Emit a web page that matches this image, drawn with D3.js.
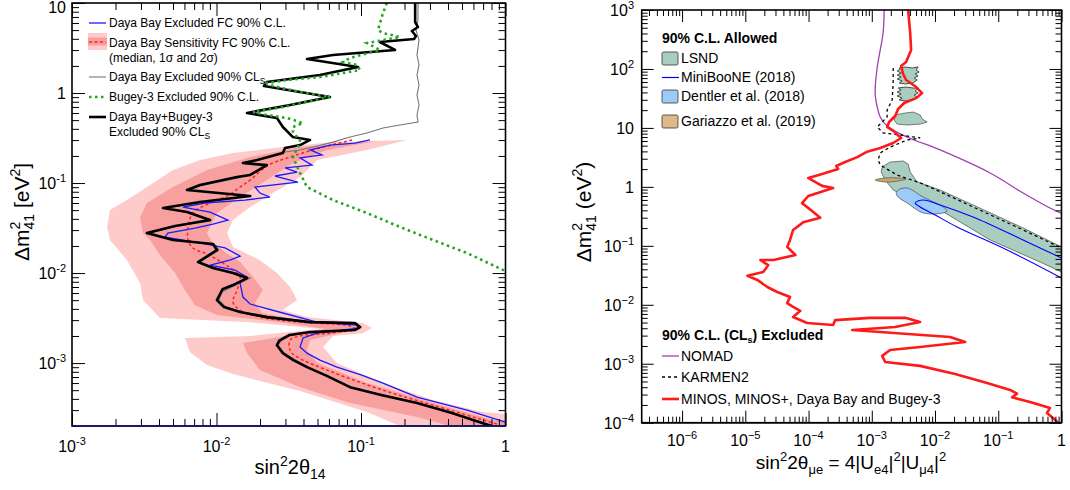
<!DOCTYPE html>
<html>
<head>
<meta charset="utf-8">
<script src="https://cdn.jsdelivr.net/npm/d3@7"></script>
<style>
  body { margin: 0; background: #fff; }
  text { font-family: "Liberation Sans", Arial, Helvetica, sans-serif; fill: #000; }
</style>
</head>
<body>
<svg id="chart" width="1070" height="490"></svg>
<script>
// ---------- left panel data: [sin^2 2theta14, dm41^2] ----------
var combined = [[0.237,10],[0.237,6.15],[0.248,5.41],[0.225,4.89],[0.240,4.30],[0.233,3.98],[0.135,3.69],[0.172,3.01],[0.064,2.64],[0.0423,2.39],[0.0953,1.95],[0.052,1.585],[0.0223,1.325],[0.0213,1.196],[0.061,0.903],[0.0323,0.736],[0.01626,0.600],[0.0262,0.527],[0.0288,0.419],[0.0338,0.324],[0.0444,0.301],[0.0379,0.264],[0.0298,0.245],[0.0288,0.215],[0.0191,0.180],[0.01524,0.167],[0.0223,0.158],[0.0171,0.123],[0.01387,0.1166],[0.00769,0.095],[0.00625,0.0836],[0.0171,0.0717],[0.00769,0.0615],[0.00427,0.0528],[0.00625,0.0476],[0.00902,0.0388],[0.00517,0.0333],[0.0033,0.0278],[0.0050,0.0233],[0.00946,0.0210],[0.01007,0.0180],[0.00745,0.01325],[0.00946,0.01137],[0.013,0.01],[0.01626,0.0088],[0.013,0.00736],[0.0110,0.0066],[0.01007,0.00501],[0.01127,0.00419],[0.01456,0.00369],[0.0223,0.00324],[0.0444,0.00285],[0.0907,0.00278],[0.0984,0.00251],[0.0907,0.00233],[0.0444,0.00221],[0.0320,0.00205],[0.0272,0.00178],[0.0262,0.00158],[0.0288,0.00129],[0.0340,0.00108],[0.0423,0.000903],[0.058,0.00072],[0.084,0.00054],[0.140,0.00044],[0.244,0.00036],[0.420,0.00028],[0.698,0.000215],[0.807,0.0002]];

var dbFC = [[0.1153,0.301],[0.0907,0.278],[0.061,0.264],[0.0444,0.233],[0.0537,0.205],[0.0379,0.190],[0.0458,0.158],[0.0298,0.147],[0.0361,0.1325],[0.0254,0.1197],[0.0366,0.1026],[0.01845,0.0903],[0.02,0.0774],[0.0234,0.0699],[0.01574,0.0647],[0.00832,0.06],[0.00586,0.0541],[0.00902,0.0476],[0.0120,0.0388],[0.00946,0.035],[0.0071,0.0316],[0.00461,0.0278],[0.0044,0.0251],[0.00769,0.0216],[0.01146,0.019],[0.01456,0.01545],[0.01238,0.0139],[0.00902,0.01227],[0.01343,0.0108],[0.01626,0.00903],[0.01456,0.00774],[0.01524,0.00541],[0.0171,0.00453],[0.0288,0.0036],[0.0497,0.00285],[0.0938,0.00264],[0.0953,0.00245],[0.0497,0.00215],[0.0397,0.0019],[0.0379,0.00151],[0.0423,0.00129],[0.052,0.00108],[0.0682,0.000903],[0.100,0.00074],[0.142,0.0006],[0.244,0.000419],[0.542,0.0003],[1.0,0.000221]];

var dbSensMedian = [[0.0867,0.301],[0.052,0.245],[0.0323,0.1945],[0.0223,0.1545],[0.0171,0.108],[0.01456,0.0903],[0.01183,0.0717],[0.00902,0.06],[0.00687,0.0464],[0.00636,0.0325],[0.00636,0.0233],[0.00687,0.019],[0.00859,0.01626],[0.0111,0.0129],[0.01456,0.00903],[0.01387,0.00647],[0.013,0.00476],[0.01456,0.00388],[0.02,0.00324],[0.0379,0.00285],[0.084,0.00258],[0.0907,0.00239],[0.061,0.00215],[0.0379,0.002],[0.0323,0.0018],[0.0323,0.00139],[0.0361,0.00117],[0.0582,0.000836],[0.142,0.0005],[0.413,0.0003],[0.916,0.000205]];

var dbSens2s = [[0.208,0.301],[0.110,0.233],[0.0497,0.180],[0.0379,0.1166],[0.0246,0.0774],[0.0171,0.0541],[0.013,0.0388],[0.01183,0.0278],[0.013,0.0195],[0.02,0.0139],[0.0262,0.01],[0.0323,0.00699],[0.0361,0.00501],[0.0288,0.00388],[0.0423,0.00324],[0.1033,0.00278],[0.119,0.00245],[0.1033,0.00215],[0.064,0.002],[0.0546,0.00151],[0.0682,0.001],[0.142,0.0006],[0.315,0.000388],[0.698,0.000286],[1.0,0.000271],[1.0,0.0002],[0.186,0.0002],[0.110,0.000286],[0.0379,0.000489],[0.013,0.000755],[0.00859,0.00095],[0.00656,0.00132],[0.00605,0.0019],[0.0171,0.002],[0.052,0.00239],[0.0171,0.00285],[0.00406,0.00316],[0.0031,0.00501],[0.00296,0.00774],[0.0024,0.0139],[0.00183,0.0233],[0.00175,0.0325],[0.00183,0.0501],[0.0024,0.0647],[0.0033,0.0903],[0.005,0.1394],[0.00769,0.180],[0.013,0.215],[0.0288,0.251],[0.064,0.285]];

var dbSens1s = [[0.129,0.293],[0.0582,0.233],[0.0338,0.167],[0.0223,0.108],[0.01456,0.0699],[0.01007,0.0464],[0.00859,0.0278],[0.00931,0.0221],[0.01146,0.0171],[0.01456,0.01325],[0.0179,0.00903],[0.0210,0.00647],[0.01845,0.00464],[0.0207,0.0036],[0.0379,0.003],[0.0881,0.00264],[0.0984,0.00245],[0.0774,0.00221],[0.0444,0.0018],[0.0423,0.00139],[0.0497,0.001],[0.110,0.0006],[0.315,0.00036],[0.818,0.000233],[1.0,0.000227],[1.0,0.0002],[0.413,0.0002],[0.244,0.000251],[0.084,0.00036],[0.0379,0.00054],[0.02,0.000836],[0.01626,0.00129],[0.01524,0.00167],[0.0275,0.00195],[0.0564,0.00239],[0.0275,0.00285],[0.01007,0.00341],[0.0071,0.0044],[0.00605,0.00647],[0.00517,0.01],[0.00406,0.01585],[0.00347,0.0233],[0.0031,0.0278],[0.00296,0.0419],[0.0033,0.06],[0.005,0.0903],[0.00859,0.1394],[0.0171,0.1945],[0.0379,0.251]];

var dbCLs = [[0.248,10],[0.248,6.47],[0.240,5.01],[0.252,3.88],[0.244,2.64],[0.252,2.05],[0.244,1.585],[0.252,1.23],[0.244,0.95],[0.252,0.736],[0.244,0.570],[0.248,0.476],[0.186,0.441],[0.142,0.408],[0.110,0.36],[0.084,0.324],[0.064,0.285],[0.0497,0.258],[0.0379,0.233],[0.0298,0.221],[0.0194,0.180],[0.01574,0.1626],[0.022,0.1545],[0.0171,0.123],[0.0141,0.1137],[0.00769,0.0926],[0.00636,0.0836],[0.01652,0.0717],[0.00794,0.0615],[0.0044,0.0528],[0.00636,0.0476],[0.00902,0.0378],[0.00533,0.0333],[0.00347,0.0278],[0.00517,0.0233],[0.00962,0.021],[0.0104,0.018],[0.00769,0.01325],[0.00978,0.01137],[0.01365,0.01],[0.0171,0.0088],[0.01365,0.00736],[0.0109,0.00615],[0.0104,0.00501],[0.01164,0.00419],[0.015,0.00369],[0.0227,0.0033],[0.0444,0.00289],[0.0922,0.00278],[0.1,0.00251],[0.0922,0.00233],[0.045,0.00221],[0.0293,0.00195],[0.0267,0.00158],[0.0293,0.00129],[0.0431,0.000903],[0.0854,0.00054],[0.248,0.00036],[0.72,0.000215]];

var bugey3 = [[0.151,10],[0.142,7.74],[0.131,5.01],[0.142,4.64],[0.186,4.19],[0.110,3.59],[0.135,3.01],[0.084,2.45],[0.075,2.21],[0.0938,2.05],[0.0984,1.80],[0.052,1.505],[0.0308,1.394],[0.0223,1.29],[0.0246,1.196],[0.0379,1.026],[0.061,0.903],[0.0288,0.699],[0.0179,0.615],[0.0223,0.570],[0.0308,0.527],[0.0397,0.464],[0.0338,0.419],[0.0338,0.36],[0.0379,0.301],[0.0366,0.251],[0.0338,0.1945],[0.0379,0.129],[0.0423,0.0903],[0.064,0.0647],[0.110,0.0464],[0.186,0.0325],[0.315,0.0233],[0.542,0.01668],[1.0,0.01052]];

var leftXTicks = [1e-3, 1e-2, 1e-1, 1];
var leftYTicks = [1e-3, 1e-2, 1e-1, 1, 10];

// ---------- right panel data: [sin^2 2theta_mue, dm41^2] ----------
var lsndBand = [[0.00163,2.35],[0.001954,2.64],[0.00313,2.75],[0.00376,2.44],[0.00405,1.79],[0.00521,1.21],[0.01205,0.885],[0.040,0.493],[0.247,0.201],[1.0,0.0955],[1.0,0.036],[0.457,0.0532],[0.0743,0.1256],[0.01205,0.406],[0.00649,0.533],[0.00362,0.673],[0.00218,0.885],[0.00163,1.31],[0.00141,1.79],[0.00146,2.17]];
var lsndIsland1 = [[0.00234,16.6],[0.00338,17.9],[0.00451,18.6],[0.00582,16.6],[0.00625,14.2],[0.0075,12.6],[0.00582,11.6],[0.00362,11.2],[0.00252,11.6],[0.00226,13.6]];
var lsndIsland2 = [[0.00271,104],[0.00338,108],[0.00435,104],[0.00541,108],[0.00502,96],[0.00561,88.7],[0.00485,82.2],[0.00541,76.0],[0.00468,70.3],[0.00521,65.0],[0.00451,57.8],[0.00338,55.6],[0.00271,57.8],[0.00302,62.5],[0.00252,67.6],[0.00291,73.1],[0.00252,79.0],[0.00291,85.3],[0.00252,92.3],[0.00281,100]];
var lsndIsland3 = [[0.00261,47.5],[0.00349,49.4],[0.00451,47.5],[0.00541,47.5],[0.00485,42.3],[0.00541,39.1],[0.00468,36.1],[0.00521,33.4],[0.00451,29.8],[0.00338,28.6],[0.00271,29.8],[0.00302,32.1],[0.00252,34.8],[0.00291,37.6],[0.00252,40.6],[0.00291,44.0]];
var miniboone = [[1.0,0.0622],[0.247,0.1256],[0.040,0.308],[0.01205,0.493],[0.00649,0.598],[0.00485,0.533],[0.00582,0.456],[0.01005,0.333],[0.0223,0.209],[0.138,0.0849],[1.0,0.0285]];
var dentler = [[0.00261,0.885],[0.00362,0.957],[0.00649,0.673],[0.01343,0.456],[0.0155,0.39],[0.01343,0.361],[0.00649,0.361],[0.00362,0.533],[0.00261,0.673],[0.00243,0.787]];
var gariazzo = [[0.00113,1.31],[0.00163,1.415],[0.00261,1.415],[0.00349,1.36],[0.00261,1.26],[0.00163,1.21]];
var nomad = [[0.00157,1000],[0.00151,407],[0.00136,210],[0.00122,108],[0.00113,39.1],[0.00122,22.6],[0.00136,15.3],[0.00175,10.8],[0.00362,7.01],[0.01205,4.23],[0.0743,1.72],[0.247,0.787],[0.658,0.438],[1.0,0.355]];
var karmen2 = [[0.00218,104],[0.00218,57.8],[0.0021,29.8],[0.00175,20.1],[0.00175,15.3],[0.00122,10.4],[0.00151,8.2],[0.00281,7.59],[0.00582,6.75],[0.00362,6.24],[0.001954,4.74],[0.001358,3.76],[0.00126,2.86],[0.001358,2.35],[0.00163,2.09],[0.00252,1.59],[0.00649,1.12],[0.040,0.456],[0.247,0.186],[1.0,0.0918]];
var minosDbBugey = [[0.00376,1000],[0.00405,407],[0.00419,210],[0.00349,131],[0.00291,112],[0.00313,82],[0.00349,65],[0.00485,51],[0.00625,39],[0.00502,32],[0.00325,26.5],[0.00261,20.9],[0.00234,15.9],[0.00188,12.6],[0.00175,10.4],[0.00218,8.9],[0.00291,6.75],[0.00218,5.55],[0.00136,4.56],[0.00082,3.9],[0.00059,3.2],[0.00038,2.64],[0.000274,2.26],[0.000294,2.01],[0.000164,1.65],[0.000099,1.42],[0.000119,1.26],[0.000164,1.04],[0.000245,0.96],[0.000099,0.70],[0.000079,0.53],[0.000119,0.375],[0.000153,0.30],[0.000082,0.25],[0.000057,0.186],[0.000051,0.126],[0.000046,0.096],[0.000062,0.070],[0.000028,0.0575],[0.0000173,0.0575],[0.000023,0.047],[0.0000192,0.036],[0.0000108,0.031],[0.0000155,0.0264],[0.0000223,0.020],[0.000032,0.0165],[0.000051,0.0136],[0.000046,0.0107],[0.000057,0.0092],[0.000074,0.0079],[0.000057,0.0062],[0.000095,0.0049],[0.000245,0.00454],[0.000264,0.0055],[0.00094,0.006],[0.00338,0.006],[0.0058,0.0051],[0.00234,0.0042],[0.00049,0.00374],[0.0173,0.00284],[0.030,0.00234],[0.0058,0.00192],[0.00195,0.00171],[0.00146,0.00136],[0.00163,0.00107],[0.0058,0.00092],[0.0208,0.00067],[0.0665,0.00047],[0.154,0.00036],[0.198,0.00031],[0.165,0.00027],[0.318,0.000225],[0.658,0.000178],[0.59,0.000146],[0.735,0.00012],[0.88,0.0001]];

var rightXTicks = [1e-6, 1e-5, 1e-4, 1e-3, 1e-2, 1e-1, 1];
var rightYTicks = [1e-4, 1e-3, 1e-2, 1e-1, 1, 10, 100, 1000];

var svg = d3.select("#chart");

// scales
var xL = d3.scaleLog().domain([1e-3, 1]).range([72, 505.5]);
var yL = d3.scaleLog().domain([2e-4, 10]).range([426, 3]);
var xR = d3.scaleLog().domain([2.3e-7, 1]).range([641.7, 1061.5]);
var yR = d3.scaleLog().domain([1e-4, 1e3]).range([422.7, 10]);

function isPow10(v) {
  var l = Math.log10(v);
  return Math.abs(l - Math.round(l)) < 1e-6;
}

// clip areas
var defs = svg.append("defs");
defs.append("clipPath").attr("id", "clipL").append("rect")
  .attr("x", 72).attr("y", 3).attr("width", 433.5).attr("height", 423);
defs.append("clipPath").attr("id", "clipR").append("rect")
  .attr("x", 641.7).attr("y", 10).attr("width", 419.8).attr("height", 412.7);

function lineOf(x, y) {
  return d3.line().x(function(d) { return x(d[0]); }).y(function(d) { return y(d[1]); });
}

// ================= LEFT PANEL =================
var gL = svg.append("g").attr("clip-path", "url(#clipL)");
var lineL = lineOf(xL, yL);
var bandL = lineOf(xL, yL).curve(d3.curveLinearClosed);
var smoothL = lineOf(xL, yL).curve(d3.curveCatmullRom.alpha(0.5));

gL.append("path").attr("d", bandL(dbSens2s)).attr("fill", "#ffcaca");
gL.append("path").attr("d", bandL(dbSens1s)).attr("fill", "#f8a0a0");
gL.append("path").attr("d", lineL(dbCLs)).attr("fill", "none").attr("stroke", "#777").attr("stroke-width", 1.1);
gL.append("path").attr("d", smoothL(dbSensMedian)).attr("fill", "none").attr("stroke", "#ff2020")
  .attr("stroke-width", 1.5).attr("stroke-dasharray", "3,2.5");
gL.append("path").attr("d", lineL(dbFC)).attr("fill", "none").attr("stroke", "#1a1aff").attr("stroke-width", 1.3);
gL.append("path").attr("d", lineL(combined)).attr("fill", "none").attr("stroke", "#000")
  .attr("stroke-width", 2.6).attr("stroke-linejoin", "round");
gL.append("path").attr("d", lineL(bugey3)).attr("fill", "none").attr("stroke", "#22a622")
  .attr("stroke-width", 2.6).attr("stroke-dasharray", "2.5,3.5");

// ================= RIGHT PANEL =================
var gR = svg.append("g").attr("clip-path", "url(#clipR)");
var lineR = lineOf(xR, yR);
var smoothR = lineOf(xR, yR).curve(d3.curveCatmullRom.alpha(0.5));
var areaR = lineOf(xR, yR).curve(d3.curveLinearClosed);
var blobR = lineOf(xR, yR).curve(d3.curveCatmullRomClosed.alpha(0.5));

[lsndBand, lsndIsland1].forEach(function(p) {
  gR.append("path").attr("d", areaR(p)).attr("fill", "#a9cdc1").attr("stroke", "#333").attr("stroke-width", 0.6);
});
[lsndIsland2, lsndIsland3].forEach(function(p) {
  gR.append("path").attr("d", areaR(p)).attr("fill", "#a9cdc1").attr("stroke", "#222").attr("stroke-width", 0.8);
});
gR.append("path").attr("d", blobR(dentler)).attr("fill", "#9ccbf7").attr("stroke", "#334").attr("stroke-width", 0.6);
gR.append("path").attr("d", blobR(gariazzo)).attr("fill", "#c9a675").attr("stroke", "#554").attr("stroke-width", 0.7);
gR.append("path").attr("d", smoothR(miniboone)).attr("fill", "none")
  .attr("stroke", "#0000ff").attr("stroke-width", 1.1);
gR.append("path").attr("d", smoothR(nomad)).attr("fill", "none")
  .attr("stroke", "#a040b0").attr("stroke-width", 1.3);
gR.append("path").attr("d", lineR(karmen2)).attr("fill", "none").attr("stroke", "#000")
  .attr("stroke-width", 1.3).attr("stroke-dasharray", "3,3");
gR.append("path").attr("d", lineR(minosDbBugey)).attr("fill", "none").attr("stroke", "#ff1a1a")
  .attr("stroke-width", 2.6).attr("stroke-linejoin", "round");

// ================= FRAMES & TICKS =================
function frame(x, y, major, minor, bottomColor) {
  var x0 = x.range()[0], x1 = x.range()[1], y0 = y.range()[1], y1 = y.range()[0];
  var xt = x.ticks(), yt = y.ticks();
  var xMaj = xt.filter(isPow10), xMin = xt.filter(function(v) { return !isPow10(v); });
  var yMaj = yt.filter(isPow10), yMin = yt.filter(function(v) { return !isPow10(v); });
  var sets = [
    [d3.axisBottom(x), "translate(0," + y1 + ")", xMaj, xMin],
    [d3.axisTop(x), "translate(0," + y0 + ")", xMaj, xMin],
    [d3.axisLeft(y), "translate(" + x0 + ",0)", yMaj, yMin],
    [d3.axisRight(y), "translate(" + x1 + ",0)", yMaj, yMin]
  ];
  sets.forEach(function(s) {
    [[s[2], major], [s[3], minor]].forEach(function(t) {
      var g = svg.append("g").attr("transform", s[1])
        .call(s[0].tickValues(t[0]).tickSize(-t[1]).tickSizeOuter(0).tickFormat(""));
      g.select(".domain").remove();
      g.selectAll("line").attr("stroke", "#000").attr("stroke-width", 1);
    });
  });
  svg.append("rect").attr("x", x0).attr("y", y0).attr("width", x1 - x0).attr("height", y1 - y0)
    .attr("fill", "none").attr("stroke", "#000").attr("stroke-width", 1.6);
  svg.append("line").attr("x1", x0).attr("x2", x1).attr("y1", y1).attr("y2", y1)
    .attr("stroke", bottomColor).attr("stroke-width", 1.6);
}
frame(xL, yL, 13, 7, "#141478");
frame(xR, yR, 12, 6, "#000");

// tick labels with superscript exponents
function powLabel(sel, v, minus) {
  var e = Math.round(Math.log10(v));
  if (e === 0) { sel.text("1"); return; }
  if (e === 1) { sel.text("10"); return; }
  sel.append("tspan").text("10");
  sel.append("tspan").attr("font-size", 11).attr("dy", -7).text((e < 0 ? minus : "") + Math.abs(e));
}

leftXTicks.forEach(function(v) {
  svg.append("text").attr("x", xL(v)).attr("y", 452).attr("text-anchor", "middle")
    .attr("font-size", 16).call(powLabel, v, "-");
});
leftYTicks.forEach(function(v) {
  svg.append("text").attr("x", 66).attr("y", Math.max(yL(v) + 6, 13)).attr("text-anchor", "end")
    .attr("font-size", 16).call(powLabel, v, "-");
});
rightXTicks.forEach(function(v) {
  svg.append("text").attr("x", xR(v)).attr("y", 446).attr("text-anchor", "middle")
    .attr("font-size", 16).call(powLabel, v, "\u2212");
});
rightYTicks.forEach(function(v) {
  svg.append("text").attr("x", 634).attr("y", yR(v) + 6).attr("text-anchor", "end")
    .attr("font-size", 16).call(powLabel, v, "\u2212");
});

// rich text helper: parts = [text, size, dy, dx]
function rich(sel, parts) {
  parts.forEach(function(p) {
    var t = sel.append("tspan").text(p[0]).attr("font-size", p[1]);
    if (p[2]) t.attr("dy", p[2]);
    if (p[3]) t.attr("dx", p[3]);
  });
  return sel;
}

// axis titles
svg.append("text").attr("x", 290).attr("y", 474).attr("text-anchor", "middle")
  .call(rich, [["sin", 20], ["2", 14, -8], ["2\u03b8", 20, 8], ["14", 14, 5]]);
svg.append("text").attr("transform", "translate(29,212) rotate(-90)").attr("text-anchor", "middle")
  .call(rich, [["\u0394m", 21], ["2", 14, -9], ["41", 14, 14, -7.8], [" [eV", 21, -5], ["2", 14, -9], ["]", 21, 9]]);

svg.append("text").attr("x", 851).attr("y", 469).attr("text-anchor", "middle")
  .call(rich, [["sin", 19], ["2", 13, -8], ["2\u03b8", 19, 8], ["\u03bce", 13, 5], [" = 4|U", 19, -5], ["e4", 13, 5],
    ["|", 19, -5], ["2", 13, -8], ["|U", 19, 8], ["\u03bc4", 13, 5], ["|", 19, -5], ["2", 13, -8]]);
svg.append("text").attr("transform", "translate(591,212) rotate(-90)").attr("text-anchor", "middle")
  .call(rich, [["\u0394m", 21], ["2", 14, -9], ["41", 14, 14, -7.8], [" (eV", 21, -5], ["2", 14, -9], [")", 21, 9]]);

// ================= LEGENDS =================
var legL = svg.append("g");
function legLine(y, color, w, dash) {
  legL.append("line").attr("x1", 89).attr("x2", 106).attr("y1", y).attr("y2", y)
    .attr("stroke", color).attr("stroke-width", w).attr("stroke-dasharray", dash || null);
}
function legText(g, x, y, parts, size, weight) {
  var t = g.append("text").attr("x", x).attr("y", y + size * 0.36).attr("font-size", size)
    .attr("font-weight", weight || null);
  parts.forEach(function(p) {
    var s = t.append("tspan").text(p[0]);
    if (p[1]) s.attr("font-size", p[1]);
    if (p[2]) s.attr("dy", p[2]);
  });
}
legLine(23, "#1a1aff", 1.3);
legText(legL, 109, 23, [["Daya Bay Excluded FC 90% C.L."]], 12);
legL.append("rect").attr("x", 88).attr("y", 33).attr("width", 19).attr("height", 17).attr("fill", "#ffcaca");
legL.append("rect").attr("x", 88).attr("y", 37.5).attr("width", 19).attr("height", 8).attr("fill", "#f8a0a0");
legLine(42, "#ff2020", 1.5, "3,2.5");
legText(legL, 109, 43, [["Daya Bay Sensitivity FC 90% C.L."]], 12);
legText(legL, 109, 58, [["(median, 1\u03c3 and 2\u03c3)"]], 12);
legLine(77, "#777", 1.1);
legText(legL, 109, 77, [["Daya Bay Excluded 90% CL"], ["S", 8.5, 3]], 12);
legLine(97, "#22a622", 2.6, "2.5,3.5");
legText(legL, 109, 97, [["Bugey-3 Excluded 90% C.L."]], 12);
legLine(117, "#000", 2.6);
legText(legL, 109, 117, [["Daya Bay+Bugey-3"]], 12);
legText(legL, 109, 132, [["Excluded 90% CL"], ["S", 8.5, 3]], 12);

var legR = svg.append("g");
legText(legR, 662, 38, [["90% C.L. Allowed"]], 14, "bold");
legR.append("rect").attr("x", 662).attr("y", 52).attr("width", 16).attr("height", 13).attr("rx", 1.5)
  .attr("fill", "#a9cdc1").attr("stroke", "#333").attr("stroke-width", 0.8);
legText(legR, 681, 58, [["LSND"]], 14);
legR.append("line").attr("x1", 662).attr("x2", 679).attr("y1", 77.5).attr("y2", 77.5)
  .attr("stroke", "#0000ff").attr("stroke-width", 1.2);
legText(legR, 681, 77, [["MiniBooNE (2018)"]], 14);
legR.append("rect").attr("x", 662).attr("y", 90).attr("width", 16).attr("height", 13).attr("rx", 1.5)
  .attr("fill", "#9ccbf7").attr("stroke", "#333").attr("stroke-width", 0.8);
legText(legR, 681, 96, [["Dentler et al. (2018)"]], 14);
legR.append("rect").attr("x", 662).attr("y", 115).attr("width", 16).attr("height", 13).attr("rx", 1.5)
  .attr("fill", "#dcb987").attr("stroke", "#333").attr("stroke-width", 0.8);
legText(legR, 681, 121, [["Gariazzo et al. (2019)"]], 14);

legText(legR, 662, 335, [["90% C.L. (CL"], ["s", 9, 3], [") Excluded", null, -3]], 14, "bold");
legR.append("line").attr("x1", 662).attr("x2", 679).attr("y1", 356).attr("y2", 356)
  .attr("stroke", "#a040b0").attr("stroke-width", 1.3);
legText(legR, 681, 356, [["NOMAD"]], 14);
legR.append("line").attr("x1", 662).attr("x2", 679).attr("y1", 377).attr("y2", 377)
  .attr("stroke", "#000").attr("stroke-width", 1.3).attr("stroke-dasharray", "3,3");
legText(legR, 681, 377, [["KARMEN2"]], 14);
legR.append("line").attr("x1", 662).attr("x2", 679).attr("y1", 399).attr("y2", 399)
  .attr("stroke", "#ff1a1a").attr("stroke-width", 2.6);
legText(legR, 681, 399, [["MINOS, MINOS+, Daya Bay and Bugey-3"]], 14);
</script>
</body>
</html>
